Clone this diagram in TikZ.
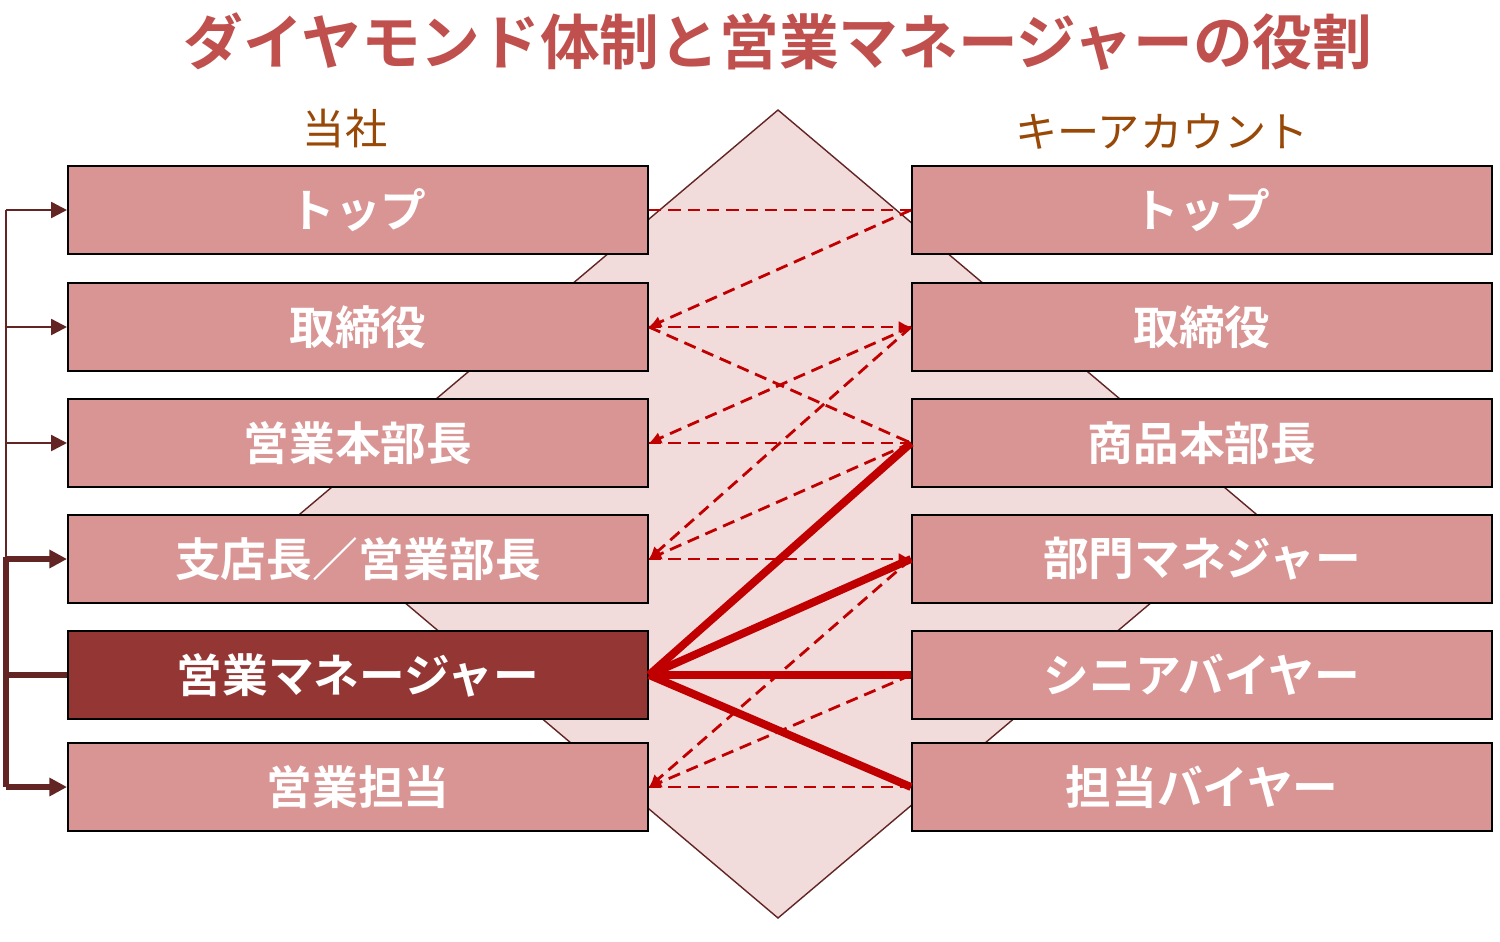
\documentclass[tikz,border=0pt]{standalone}
\usepackage{fontspec}
\newfontfamily\jp{Noto Sans CJK JP}
\newfontfamily\jpb{Noto Sans CJK JP Bold}
\usetikzlibrary{arrows.meta}
\definecolor{boxc}{HTML}{D99594}
\definecolor{darkc}{HTML}{943634}
\definecolor{ttl}{HTML}{C0504D}
\definecolor{hdr}{HTML}{984807}
\definecolor{lnc}{HTML}{C00000}
\definecolor{brk}{HTML}{632523}
\definecolor{dia}{HTML}{F2DCDB}
\begin{document}
\begin{tikzpicture}[x=0.02cm,y=-0.02cm,
 box/.style={draw=black,line width=1.2pt,fill=boxc,minimum width=11.6cm,minimum height=1.76cm,inner sep=0pt,text=white,font=\jpb\fontsize{26}{28}\selectfont},
 dl/.style={draw=lnc,line width=1.6pt,dash pattern=on 7pt off 4pt},
 sl/.style={draw=lnc,line width=4.5pt},
 tip/.style={-{Latex[length=7pt,width=7pt]}},
 thin/.style={draw=brk,line width=1.4pt,-{Triangle[length=9pt,width=9pt]}},
 thick/.style={draw=brk,line width=3pt,-{Triangle[length=10pt,width=10pt]}}]
\useasboundingbox (0,0) rectangle (1500,941);
\fill[white] (0,0) rectangle (1500,941);
\node[font=\jpb\fontsize{34}{36}\selectfont,text=ttl] (title) at (778,42) {ダイヤモンド体制と営業マネージャーの役割};
\node[font=\jp\fontsize{24}{26}\selectfont,text=hdr] (hl) at (345,128) {当社};
\node[font=\jp\fontsize{24}{26}\selectfont,text=hdr] (hr) at (1162,132) {キーアカウント};
\path[draw=brk,fill=dia,line width=0.8pt] (778,110) coordinate(dt) -- (300,514) -- (778,918) -- (1256,514) -- cycle;
\foreach \n/\y/\t in {1/210/トップ,2/327/取締役,3/443/営業本部長,4/559/支店長／営業部長,6/787/営業担当}
  \node[box] (L\n) at (358,\y) {\t};
\node[box,fill=darkc] (L5) at (358,675) {営業マネージャー};
\foreach \n/\y/\t in {1/210/トップ,2/327/取締役,3/443/商品本部長,4/559/部門マネジャー,5/675/シニアバイヤー,6/787/担当バイヤー}
  \node[box] (R\n) at (1202,\y) {\t};
% dashed
\draw[dl] (L1.east) -- (R1.west);
\draw[dl,tip] (R1.west) -- (L2.east);
\draw[dl,tip] (L2.east) -- (R2.west);
\draw[dl] (L2.east) -- (R3.west);
\draw[dl,tip] (R2.west) -- (L3.east);
\draw[dl,tip] (R2.west) -- (L4.east);
\draw[dl] (L3.east) -- (R3.west);
\draw[dl,tip] (R3.west) -- (L4.east);
\draw[dl,tip] (L4.east) -- (R4.west);
\draw[dl,tip] (R4.west) -- (L6.east);
\draw[dl,tip] (R5.west) -- (L6.east);
\draw[dl] (L6.east) -- (R6.west);
% solid
\foreach \r in {3,4,5,6} \draw[sl] (L5.east) -- (R\r.west);
% bracket
\coordinate (v1) at (6,210);
\coordinate (v4) at (6,559);
\coordinate (v6) at (6,787);
\draw[draw=brk,line width=1.4pt] (v1) -- (v4);
\draw[draw=brk,line width=3pt] (6,557) -- (v6);
\draw[thin] (v1) -- (L1.west);
\draw[thin] (6,327) -- (L2.west);
\draw[thin] (6,443) -- (L3.west);
\draw[thick] (v4) -- (L4.west);
\draw[draw=brk,line width=3pt] (6,675) -- (L5.west);
\draw[thick] (v6) -- (L6.west);
\end{tikzpicture}
\end{document}
